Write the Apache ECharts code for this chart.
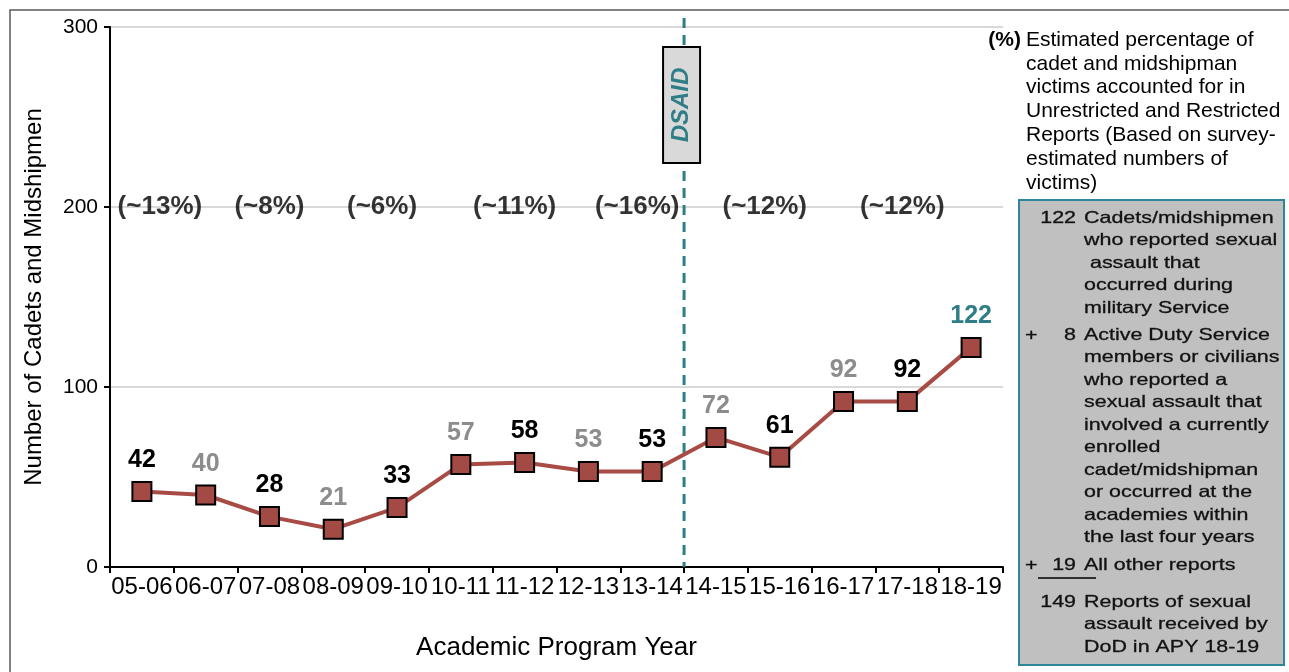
<!DOCTYPE html>
<html><head><meta charset="utf-8">
<script src="https://cdn.jsdelivr.net/npm/echarts/dist/echarts.min.js"></script>
<style>html,body{margin:0;padding:0;background:#fff}#c{width:1289px;height:672px}</style>
</head><body><div id="c"></div>
<script>
// ---------- data ----------
const years = ['05-06','06-07','07-08','08-09','09-10','10-11','11-12','12-13','13-14','14-15','15-16','16-17','17-18','18-19'];
const reports = [42, 40, 28, 21, 33, 57, 58, 53, 53, 72, 61, 92, 92, 122];
const labelTones = ['dark','gray','dark','gray','dark','gray','dark','gray','dark','gray','dark','gray','dark','teal'];
const surveyYears = ['05-06','07-08','09-10','11-12','13-14','15-16','17-18'];
const surveyPct = ['(~13%)','(~8%)','(~6%)','(~11%)','(~16%)','(~12%)','(~12%)'];
const surveyLevel = 200;
const yTicks = [0, 100, 200, 300];
const dsaidAfter = '13-14';
const dsaidBefore = '14-15';
const legendLines = ['Estimated percentage of','cadet and midshipman','victims accounted for in','Unrestricted and Restricted','Reports (Based on survey-','estimated numbers of','victims)'];
const boxNumbers = ['122', '8', '19', '149'];
const boxSigns = ['', '+', '+', ''];
const boxTexts = [
  ['Cadets/midshipmen','who reported sexual',' assault that','occurred during','military Service'],
  ['Active Duty Service','members or civilians','who reported a','sexual assault that','involved a currently','enrolled','cadet/midshipman','or occurred at the','academies within','the last four years'],
  ['All other reports'],
  ['Reports of sexual','assault received by','DoD in APY 18-19']
];

// ---------- styles ----------
const FONT = 'Liberation Sans, Arial, sans-serif';
const toneColor = {dark:'#000000', gray:'#8c8c8c', teal:'#2e7d87'};
const pctOffsetX = [18, 0, -15, -10, -15, -15, -5];
const TEAL = '#2e7d87';

const chart = echarts.init(document.getElementById('c'));
const option = {
  animation: false,
  backgroundColor: '#fff',
  grid: {left: 110, right: 286, top: 27, bottom: 105, containLabel: false, outerBoundsMode: 'none'},
  xAxis: {
    type: 'category', data: years, boundaryGap: true,
    name: 'Academic Program Year', nameLocation: 'middle', nameGap: 68,
    nameTextStyle: {fontFamily: FONT, fontSize: 26, color: '#000'},
    axisLine: {show: true, lineStyle: {color: '#000', width: 2}},
    axisTick: {show: true, length: 6, alignWithLabel: false, lineStyle: {color: '#000', width: 2}},
    axisLabel: {fontFamily: FONT, fontSize: 24, color: '#000', margin: 8, interval: 0},
    splitLine: {show: false}
  },
  yAxis: {
    type: 'value', min: yTicks[0], max: yTicks[yTicks.length-1], interval: yTicks[1]-yTicks[0],
    name: 'Number of Cadets and Midshipmen', nameLocation: 'middle', nameGap: 64,
    nameTextStyle: {fontFamily: FONT, fontSize: 24, color: '#000'},
    axisLine: {show: true, lineStyle: {color: '#000', width: 2}},
    axisTick: {show: true, length: 6, lineStyle: {color: '#000', width: 2}},
    axisLabel: {fontFamily: FONT, fontSize: 21, color: '#000', margin: 12},
    splitLine: {show: true, lineStyle: {color: '#d9d9d9', width: 2}}
  },
  series: [
    {
      type: 'line', z: 5,
      data: reports.map((v, i) => ({value: v, label: {color: toneColor[labelTones[i]]}})),
      lineStyle: {color: '#a84b45', width: 4},
      symbol: 'rect', symbolSize: 19,
      itemStyle: {color: '#a44a44', borderColor: '#000', borderWidth: 2},
      label: {show: true, position: 'top', distance: 8, fontFamily: FONT, fontSize: 25, fontWeight: 'bold'}
    },
    {
      type: 'scatter', z: 6, symbolSize: 0, silent: true,
      data: surveyYears.map((c, i) => ({value: [c, surveyLevel], label: {offset: [pctOffsetX[i], 0]}})),
      label: {show: true, position: 'inside', fontFamily: FONT, fontSize: 26, fontWeight: 'bold', color: '#000',
        formatter: p => surveyPct[p.dataIndex]}
    }
  ]
};
chart.setOption(option);

// ---------- overlays positioned via the chart's scales ----------
const xa = chart.convertToPixel({xAxisIndex: 0}, dsaidAfter);
const xb = chart.convertToPixel({xAxisIndex: 0}, dsaidBefore);
const xd = (xa + xb) / 2;
const yBase = chart.convertToPixel({yAxisIndex: 0}, yTicks[0]);

const g = [];
// outer frame
g.push({type: 'rect', shape: {x: 10, y: 10, width: 1300, height: 700}, style: {fill: 'none', stroke: '#595959', lineWidth: 1.5}, z: 0});
// DSAID line & box
g.push({type: 'line', shape: {x1: xd, y1: 18, x2: xd, y2: yBase}, style: {stroke: TEAL, lineWidth: 3, lineDash: [10, 7]}, z: 3});
g.push({type: 'rect', shape: {x: xd - 21, y: 47, width: 37, height: 116}, style: {fill: '#d9d9d9', stroke: '#000', lineWidth: 2}, z: 10});
g.push({type: 'text', x: xd - 2.5, y: 105, rotation: Math.PI / 2, z: 11,
  style: {text: 'DSAID', font: 'italic bold 24px ' + FONT, fill: TEAL, align: 'center', verticalAlign: 'middle'}});
// legend text
g.push({type: 'text', x: 1021, y: 40, z: 10, style: {text: '(%)', font: 'bold 21px ' + FONT, fill: '#000', align: 'right', verticalAlign: 'middle'}});
legendLines.forEach((t, i) => {
  g.push({type: 'text', x: 1026, y: 40 + i * 23.8, z: 10, style: {text: t, font: '21px ' + FONT, fill: '#000', align: 'left', verticalAlign: 'middle'}});
});
// gray box
g.push({type: 'rect', shape: {x: 1019, y: 200, width: 265, height: 465}, style: {fill: '#c0c0c0', stroke: '#31859b', lineWidth: 2}, z: 10});
const blockStarts = [218, 335, 565, 602];
const SX = 1.3, LH = 22.5, BF = '16.5px ' + FONT, BC = '#111';
const boxTextStyle = (t, align) => ({text: t, font: BF, fill: BC, stroke: '#333', lineWidth: 0.35, align: align, verticalAlign: 'middle'});
boxTexts.forEach((lines, b) => {
  const y0 = blockStarts[b];
  g.push({type: 'text', x: 1076, y: y0, scaleX: SX, z: 11, style: boxTextStyle(boxNumbers[b], 'right')});
  if (boxSigns[b]) g.push({type: 'text', x: 1025, y: y0, scaleX: SX, z: 11, style: boxTextStyle(boxSigns[b], 'left')});
  lines.forEach((t, i) => {
    g.push({type: 'text', x: 1084, y: y0 + i * LH, scaleX: SX, z: 11, style: boxTextStyle(t, 'left')});
  });
});
g.push({type: 'line', shape: {x1: 1038, y1: 578, x2: 1096, y2: 578}, style: {stroke: '#000', lineWidth: 1.5}, z: 11});

chart.setOption({graphic: g});
</script>
</body></html>
